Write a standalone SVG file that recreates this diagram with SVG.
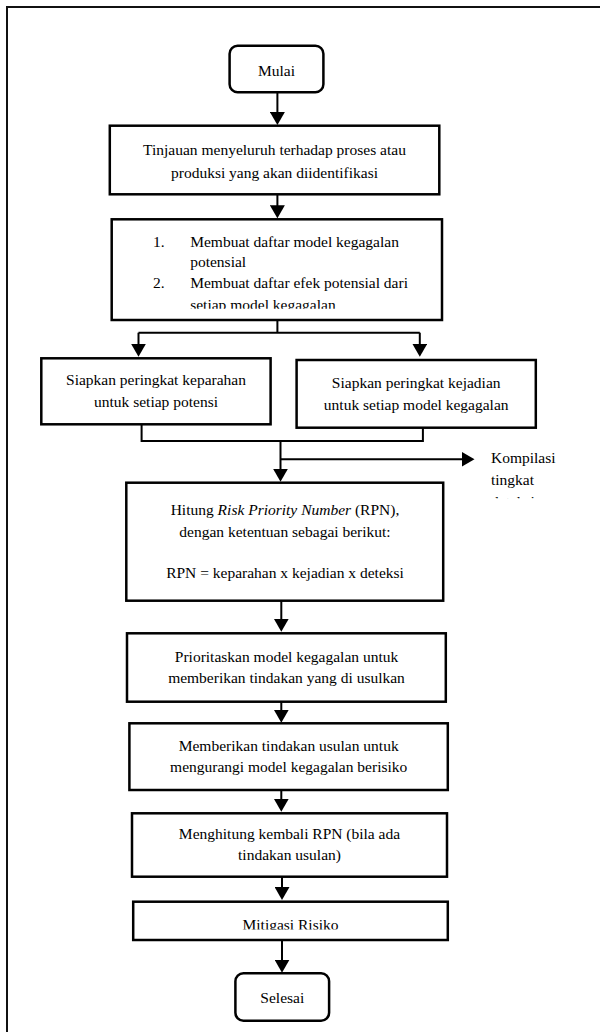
<svg xmlns="http://www.w3.org/2000/svg" width="600" height="1032" viewBox="0 0 600 1032">
<style>
.box{fill:#fff;stroke:#000;stroke-width:2.5}
.ln{fill:none;stroke:#000;stroke-width:2}
.arr{fill:none;stroke:#000;stroke-width:2;marker-end:url(#ah)}
.t{font-family:"Liberation Serif","Times New Roman",serif;font-size:15.5px;fill:#000}
.c{text-anchor:middle}
</style>
<defs>
<marker id="ah" viewBox="0 0 13 15" refX="3" refY="7.5" markerWidth="13" markerHeight="15" markerUnits="userSpaceOnUse" orient="auto">
<path d="M0,0 L13,7.5 L0,15 z" fill="#000"/>
</marker>
<clipPath id="clip3"><rect x="100" y="220" width="340" height="88.8"/></clipPath>
<clipPath id="clipK"><rect x="480" y="440" width="120" height="58.3"/></clipPath>
<clipPath id="clipM"><rect x="134" y="902" width="312" height="27.6"/></clipPath>
</defs>
<rect width="600" height="1032" fill="#fff"/>
<path d="M7,1032 V7 H600" fill="none" stroke="#111" stroke-width="2"/>

<g id="connectors">
<path class="arr" d="M277.4,92.3 V115"/>
<path class="arr" d="M277.4,194.3 V208.3"/>
<path class="ln" d="M277.4,320 V332.7 M138.5,332.7 H419.8"/>
<path class="arr" d="M138.5,332.7 V346.7"/>
<path class="arr" d="M419.8,332.7 V346.7"/>
<path class="ln" d="M141.6,424.3 V441 H422.9 V427.7"/>
<path class="arr" d="M280.5,441 V471.7"/>
<path class="arr" d="M280.5,459.3 H464.5"/>
<path class="arr" d="M281.3,600.7 V621.7"/>
<path class="arr" d="M281.3,701.7 V712.7"/>
<path class="arr" d="M281.3,790 V801.7"/>
<path class="arr" d="M282,876.7 V890"/>
<path class="arr" d="M282,940 V962.7"/>
</g>

<g id="mulai">
<rect class="box" x="229.6" y="45.7" width="93.8" height="46.6" rx="8"/>
<text class="t c" x="276.5" y="76">Mulai</text>
</g>

<g id="tinjauan">
<rect class="box" x="109.8" y="125.7" width="329.5" height="68.6"/>
<text class="t c" x="274.5" y="155">Tinjauan menyeluruh terhadap proses atau</text>
<text class="t c" x="274.5" y="178.3">produksi yang akan diidentifikasi</text>
</g>

<g id="daftar">
<rect class="box" x="111.7" y="219.3" width="330.3" height="100.7"/>
<g clip-path="url(#clip3)">
<text class="t" x="153" y="246.5">1.</text>
<text class="t" x="190.2" y="246.5">Membuat daftar model kegagalan</text>
<text class="t" x="190.2" y="267.3">potensial</text>
<text class="t" x="153" y="288.3">2.</text>
<text class="t" x="190.2" y="288.3">Membuat daftar efek potensial dari</text>
<text class="t" x="190.2" y="309.6">setiap model kegagalan</text>
</g>
</g>

<g id="keparahan">
<rect class="box" x="41.3" y="358.3" width="229.3" height="66"/>
<text class="t c" x="156" y="385">Siapkan peringkat keparahan</text>
<text class="t c" x="156" y="406.7">untuk setiap potensi</text>
</g>

<g id="kejadian">
<rect class="box" x="296.6" y="360" width="239.2" height="67.7"/>
<text class="t c" x="416.2" y="387.7">Siapkan peringkat kejadian</text>
<text class="t c" x="416.2" y="410">untuk setiap model kegagalan</text>
</g>

<g id="kompilasi">
<g clip-path="url(#clipK)">
<text class="t" x="491" y="462.7">Kompilasi</text>
<text class="t" x="491" y="485">tingkat</text>
<text class="t" x="491" y="507.3">deteksi</text>
</g>
</g>

<g id="rpn">
<rect class="box" x="126.3" y="482.7" width="316.9" height="118"/>
<text class="t c" x="285" y="515">Hitung <tspan font-style="italic">Risk Priority Number</tspan> (RPN),</text>
<text class="t c" x="285" y="536.7">dengan ketentuan sebagai berikut:</text>
<text class="t c" x="285" y="578.3">RPN = keparahan x kejadian x deteksi</text>
</g>

<g id="prioritaskan">
<rect class="box" x="127" y="633.3" width="318.8" height="68.4"/>
<text class="t c" x="286.5" y="662.3">Prioritaskan model kegagalan untuk</text>
<text class="t c" x="286.5" y="683.3">memberikan tindakan yang di usulkan</text>
</g>

<g id="usulan">
<rect class="box" x="129.4" y="723.3" width="318.4" height="66.7"/>
<text class="t c" x="288.7" y="750.7">Memberikan tindakan usulan untuk</text>
<text class="t c" x="288.7" y="771.7">mengurangi model kegagalan berisiko</text>
</g>

<g id="menghitung">
<rect class="box" x="132" y="813.3" width="315" height="63.4"/>
<text class="t c" x="289.5" y="839.3">Menghitung kembali RPN (bila ada</text>
<text class="t c" x="289.5" y="860">tindakan usulan)</text>
</g>

<g id="mitigasi">
<rect class="box" x="133.2" y="901.7" width="314.6" height="38.3"/>
<text class="t c" x="290.5" y="930" clip-path="url(#clipM)">Mitigasi Risiko</text>
</g>

<g id="selesai">
<rect class="box" x="235.4" y="973.3" width="93.7" height="47.4" rx="8"/>
<text class="t c" x="282.3" y="1002.7">Selesai</text>
</g>
</svg>
